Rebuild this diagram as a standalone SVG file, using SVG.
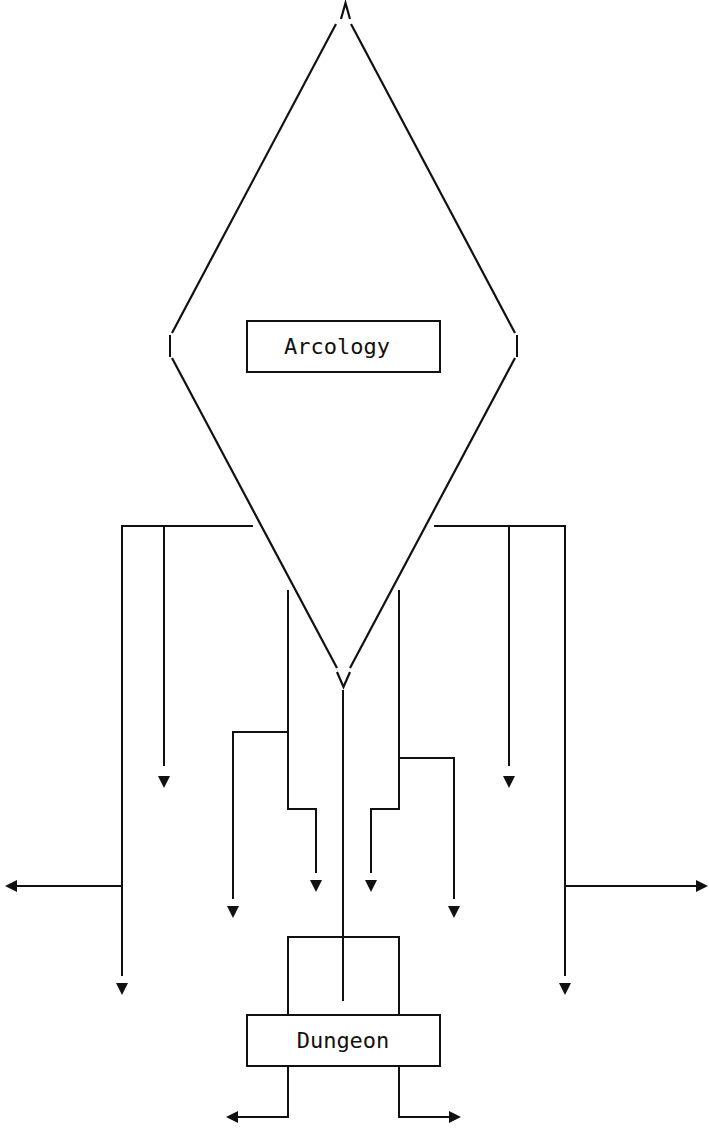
<svg xmlns="http://www.w3.org/2000/svg" width="709" height="1131" viewBox="0 0 709 1131">
  <defs>
    <style>
      .ln { fill: none; stroke: #111; stroke-width: 2; stroke-linecap: butt; stroke-linejoin: miter; }
      .sl { fill: none; stroke: #111; stroke-width: 2.2; stroke-linecap: butt; stroke-linejoin: miter; }
      .box { fill: #ffffff; stroke: #111; stroke-width: 2; }
      .lbl { font-family: "DejaVu Sans Mono", "Liberation Mono", monospace; font-size: 22px; fill: #111; text-anchor: middle; }
      .tip { fill: #111; stroke: none; }
    </style>
    <path id="down" class="tip" d="M -6 0 L 6 0 L 0 12 Z"/>
    <path id="left" class="tip" d="M 0 0 L 12 -6 L 12 6 Z"/>
    <path id="right" class="tip" d="M 0 0 L -12 -6 L -12 6 Z"/>
  </defs>
  <rect width="709" height="1131" fill="#ffffff"/>

  <!-- Arcology: diamond outline drawn as separate strokes -->
  <g id="arcology">
    <path class="sl" d="M 341 19 L 345.5 3 L 350 19"/>
    <path class="sl" d="M 336 24 L 172 333"/>
    <path class="sl" d="M 351 24 L 515 333"/>
    <path class="ln" d="M 170 335 L 170 357"/>
    <path class="ln" d="M 517 335 L 517 357"/>
    <path class="sl" d="M 172 358 L 337 668"/>
    <path class="sl" d="M 515 358 L 350 668"/>
    <path class="sl" d="M 337 672 L 343.5 687 L 350 672"/>
    <rect class="box" x="247" y="321" width="193" height="51"/>
    <text class="lbl" x="337" y="354">Arcology</text>
  </g>

  <!-- Dungeon -->
  <g id="dungeon">
    <rect class="box" x="247" y="1015" width="193" height="51"/>
    <text class="lbl" x="343" y="1048">Dungeon</text>
  </g>

  <!-- connectors -->
  <g id="connectors">
    <!-- left fan-out under the diamond -->
    <path class="ln" d="M 253 526 L 122 526 L 122 976"/>
    <path class="ln" d="M 164 526 L 164 766"/>
    <path class="ln" d="M 122 886 L 17 886"/>
    <use href="#down" x="122" y="983"/>
    <use href="#down" x="164" y="776"/>
    <use href="#left" x="5" y="886"/>

    <!-- right fan-out under the diamond -->
    <path class="ln" d="M 434 526 L 565 526 L 565 976"/>
    <path class="ln" d="M 509 526 L 509 766"/>
    <path class="ln" d="M 565 886 L 697 886"/>
    <use href="#down" x="565" y="983"/>
    <use href="#down" x="509" y="776"/>
    <use href="#right" x="708" y="886"/>

    <!-- inner left stem -->
    <path class="ln" d="M 288 590 L 288 809 L 316 809 L 316 873"/>
    <path class="ln" d="M 288 732 L 233 732 L 233 899"/>
    <use href="#down" x="316" y="880"/>
    <use href="#down" x="233" y="906"/>

    <!-- inner right stem -->
    <path class="ln" d="M 399 590 L 399 809 L 371 809 L 371 873"/>
    <path class="ln" d="M 399 758 L 454 758 L 454 899"/>
    <use href="#down" x="371" y="880"/>
    <use href="#down" x="454" y="906"/>

    <!-- centre spine into Dungeon -->
    <path class="ln" d="M 343 690 L 343 1001"/>
    <path class="ln" d="M 288 1015 L 288 937 L 399 937 L 399 1015"/>

    <!-- Dungeon exits -->
    <path class="ln" d="M 288 1066 L 288 1117 L 238 1117"/>
    <path class="ln" d="M 399 1066 L 399 1117 L 449 1117"/>
    <use href="#left" x="226" y="1117"/>
    <use href="#right" x="461" y="1117"/>
  </g>
</svg>
